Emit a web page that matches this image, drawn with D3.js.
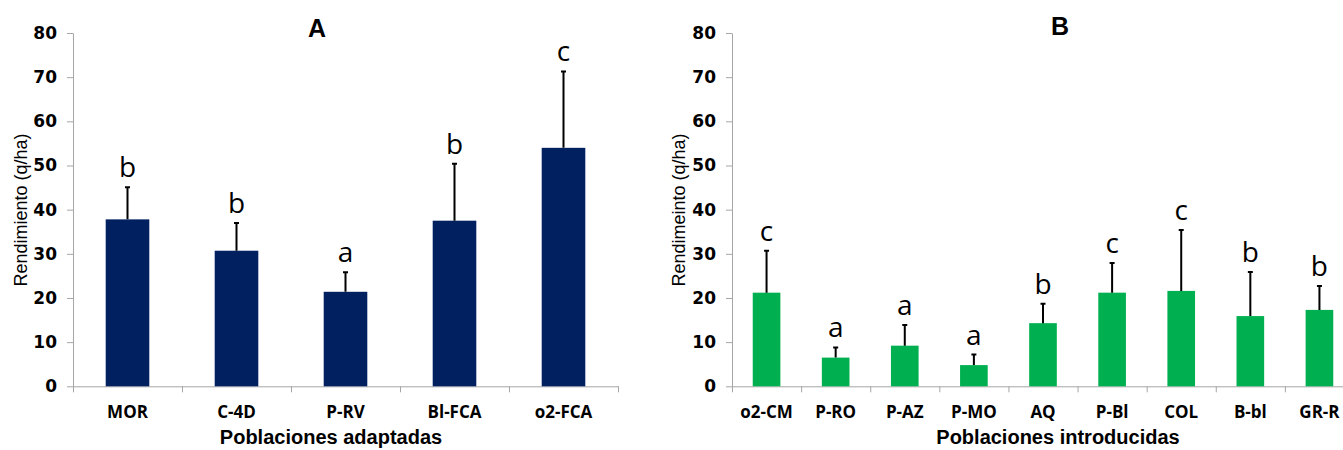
<!DOCTYPE html>
<html>
<head>
<meta charset="utf-8">
<script src="https://cdn.jsdelivr.net/npm/d3@7"></script>
<style>
  body { margin: 0; background: #fff; }
  svg { display: block; }
</style>
</head>
<body>
<div id="container"></div>
<script>
/* DATA */
const popsA = ["MOR", "C-4D", "P-RV", "Bl-FCA", "o2-FCA"];
const meanA = [37.8, 30.7, 21.4, 37.5, 54.0];
const errTopA = [45.1, 37.0, 25.8, 50.4, 71.3];
const lettersA = ["b", "b", "a", "b", "c"];

const popsB = ["o2-CM", "P-RO", "P-AZ", "P-MO", "AQ", "P-Bl", "COL", "B-bl", "GR-R"];
const meanB = [21.2, 6.5, 9.2, 4.8, 14.3, 21.2, 21.6, 15.9, 17.3];
const errTopB = [30.7, 8.8, 13.9, 7.2, 18.7, 27.9, 35.4, 25.9, 22.7];
const lettersB = ["c", "a", "a", "a", "b", "c", "c", "b", "b"];

const yTicks = [0, 10, 20, 30, 40, 50, 60, 70, 80];

/* CONSTANTS */
const width = 1343, height = 450;
const yTop = 33, yBottom = 386.3;
const axisGrey = "#a6a6a6";

const svg = d3.select("#container")
  .append("svg")
  .attr("width", width)
  .attr("height", height);

const yScale = d3.scaleLinear()
  .domain([0, 80])
  .range([yBottom, yTop]);

/* one panel = one small bar chart */
function drawPanel(p) {
  const g = svg.append("g");

  const x = d3.scaleBand()
    .domain(p.pops)
    .range([p.x0, p.x1])
    .paddingInner(0.6)
    .paddingOuter(0.3);

  /* y axis */
  const yAxis = g.append("g")
    .attr("transform", `translate(${p.x0},0)`)
    .call(d3.axisLeft(yScale).tickValues(yTicks).tickSize(6).tickSizeOuter(0).tickPadding(10));
  yAxis.select(".domain").attr("stroke", axisGrey);
  yAxis.selectAll(".tick line").attr("stroke", axisGrey);
  yAxis.selectAll("text")
    .style("font-family", "'DejaVu Sans', sans-serif")
    .style("font-weight", "bold")
    .style("font-size", "17px")
    .attr("fill", "#000");

  /* x axis: ticks at band edges */
  const edge = d3.scaleLinear().domain([0, p.pops.length]).range([p.x0, p.x1]);
  const xAxis = g.append("g")
    .attr("transform", `translate(0,${yBottom})`)
    .call(d3.axisBottom(edge).tickValues(d3.range(p.pops.length + 1)).tickSize(6).tickSizeOuter(0).tickFormat(""));
  xAxis.select(".domain").attr("stroke", axisGrey);
  xAxis.selectAll(".tick line").attr("stroke", axisGrey);

  /* category labels */
  const cat = g.append("g")
    .attr("transform", `translate(0,${yBottom})`)
    .call(d3.axisBottom(x).tickSize(0));
  cat.select(".domain").remove();
  cat.selectAll("text")
    .attr("y", 32)
    .attr("dy", 0)
    .attr("fill", "#000")
    .style("font-family", "'Open Sans', sans-serif")
    .style("font-weight", "bold")
    .style("font-size", "17px");

  /* bars */
  g.selectAll(".bar")
    .data(p.pops)
    .join("rect")
    .attr("class", "bar")
    .attr("x", d => x(d))
    .attr("width", x.bandwidth())
    .attr("y", (d, i) => yScale(p.mean[i]))
    .attr("height", (d, i) => yScale(0) - yScale(p.mean[i]))
    .attr("fill", p.color);

  /* upper error bars */
  const capW = 5;
  g.selectAll(".err")
    .data(p.pops)
    .join("path")
    .attr("class", "err")
    .attr("d", (d, i) => {
      const cx = x(d) + x.bandwidth() / 2;
      const y1 = yScale(p.mean[i]), y2 = yScale(p.errTop[i]);
      return `M${cx},${y1}V${y2}M${cx - capW / 2},${y2}H${cx + capW / 2}`;
    })
    .attr("stroke", "#000")
    .attr("stroke-width", 2)
    .attr("fill", "none");

  /* significance letters */
  g.selectAll(".letter")
    .data(p.pops)
    .join("text")
    .attr("class", "letter")
    .attr("x", d => x(d) + x.bandwidth() / 2)
    .attr("y", (d, i) => yScale(p.errTop[i]) - 10)
    .attr("text-anchor", "middle")
    .style("font-family", "'Open Sans', sans-serif")
    .style("font-size", "28px")
    .text((d, i) => p.letters[i]);

  /* panel title */
  g.append("text")
    .attr("x", p.titleX)
    .attr("y", p.titleY)
    .attr("text-anchor", "middle")
    .style("font-family", "'Liberation Sans', Arial, sans-serif")
    .style("font-weight", "bold")
    .style("font-size", "25px")
    .text(p.title);

  /* axis titles */
  g.append("text")
    .attr("x", p.xTitleX)
    .attr("y", 444)
    .attr("text-anchor", "middle")
    .style("font-family", "'Liberation Sans', Arial, sans-serif")
    .style("font-weight", "bold")
    .style("font-size", "20px")
    .text(p.xTitle);

  g.append("text")
    .attr("transform", `translate(${p.yTitleX},210) rotate(-90)`)
    .attr("text-anchor", "middle")
    .style("font-family", "'Liberation Sans', Arial, sans-serif")
    .style("font-size", "18px")
    .text(p.yTitle);
}

drawPanel({
  pops: popsA, mean: meanA, errTop: errTopA, letters: lettersA,
  x0: 73, x1: 618, color: "#002060",
  title: "A", titleX: 317, titleY: 37,
  xTitle: "Poblaciones adaptadas", xTitleX: 331,
  yTitle: "Rendimiento (q/ha)", yTitleX: 27
});

drawPanel({
  pops: popsB, mean: meanB, errTop: errTopB, letters: lettersB,
  x0: 732, x1: 1354, color: "#00b050",
  title: "B", titleX: 1060, titleY: 35,
  xTitle: "Poblaciones introducidas", xTitleX: 1058,
  yTitle: "Rendimeinto (q/ha)", yTitleX: 685
});
</script>
</body>
</html>
